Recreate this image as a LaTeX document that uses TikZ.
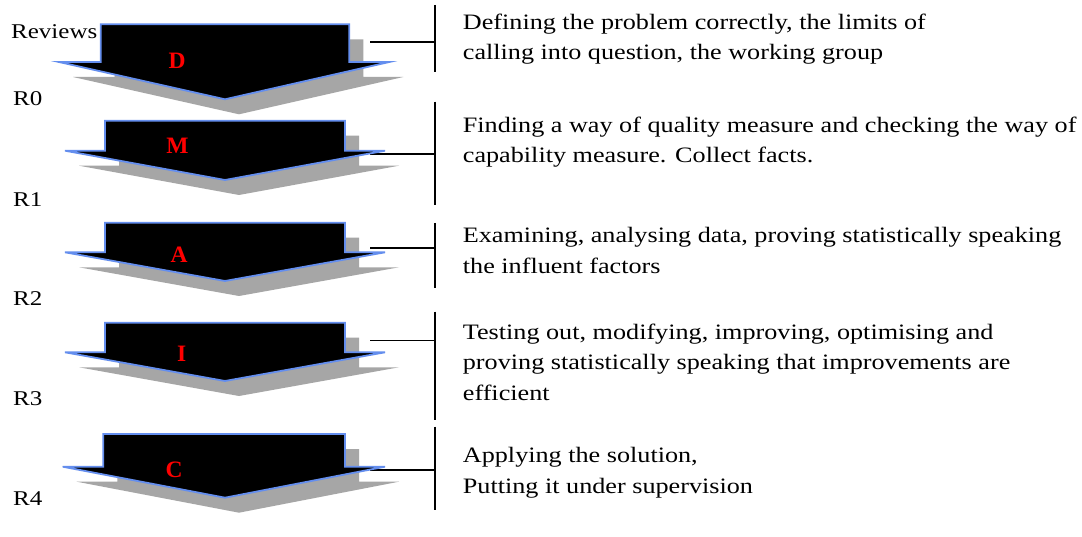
\documentclass[tikz,border=0pt]{standalone}
\usepackage{fontspec}
\setmainfont{Liberation Serif}[FakeStretch=1.19]
\newfontfamily\letterfont{Liberation Serif}
\definecolor{shadowgray}{RGB}{166,166,166}
\definecolor{edgeblue}{RGB}{100,142,238}
\definecolor{lettered}{RGB}{255,0,0}
\tikzset{
  arrowbody/.style={fill=black, draw=edgeblue, line width=1.8pt, line join=miter},
  arrowshadow/.style={fill=shadowgray},
  connector/.style={draw=black, line width=1.6pt},
  desc/.style={anchor=base west, inner sep=0pt, font=\fontsize{22}{26}\selectfont},
  review/.style={anchor=base west, inner sep=0pt, font=\fontsize{21}{25}\selectfont},
  phase/.style={anchor=center, inner sep=0pt, text=lettered, font=\letterfont\fontsize{23.5}{28}\selectfont\bfseries}
}
% #1 left x of stem, #2 right x of stem, #3 left wing x, #4 right wing x, #5 top y, #6 shoulder y, #7 tip y
\newcommand\dmaicshape[7]{%
  \path[arrowshadow, shift={(14,15)}] (#1,#5) -- (#2,#5) -- (#2,#6) -- (#4,#6) -- (225,#7) -- (#3,#6) -- (#1,#6) -- cycle;
  \path[arrowbody] (#1,#5) -- (#2,#5) -- (#2,#6) -- (#4,#6) -- (225,#7) -- (#3,#6) -- (#1,#6) -- cycle;
}
\begin{document}
\begin{tikzpicture}[x=1pt,y=-1pt]
\useasboundingbox[fill=white] (0,0) rectangle (1082,537);

% connector coordinates
\coordinate (dL) at (370,42.3);  \coordinate (dB) at (435,42.3);
\coordinate (mL) at (370,154);   \coordinate (mB) at (435,154);
\coordinate (aL) at (370,248.3); \coordinate (aB) at (435,248.3);
\coordinate (iL) at (370,340.7); \coordinate (iB) at (435,340.7);
\coordinate (cL) at (370,470);   \coordinate (cB) at (435,470);
\coordinate (dT) at (435,5);     \coordinate (dE) at (435,72);
\coordinate (mT) at (435,101.7); \coordinate (mE) at (435,205);
\coordinate (aT) at (435,223);   \coordinate (aE) at (435,288);
\coordinate (iT) at (435,311.7); \coordinate (iE) at (435,420);
\coordinate (cT) at (435,426.7); \coordinate (cE) at (435,510);

\draw[connector] (dL) -- (dB);
\draw[connector] (mL) -- (mB);
\draw[connector] (aL) -- (aB);
\draw[connector] (iL) -- (iB);
\draw[connector] (cL) -- (cB);
\draw[connector] (dT) -- (dE);
\draw[connector] (mT) -- (mE);
\draw[connector] (aT) -- (aE);
\draw[connector] (iT) -- (iE);
\draw[connector] (cT) -- (cE);

% arrows
\dmaicshape{100.7}{349.3}{59}{389.3}{24.3}{62}{99.3}
\dmaicshape{105}{345}{65}{385}{120.7}{150.7}{180}
\dmaicshape{105}{345}{65}{385}{222.7}{252.3}{281}
\dmaicshape{105}{345}{65}{385}{322.7}{352.3}{381}
\dmaicshape{103.3}{345}{62.7}{385}{434}{466.7}{497.7}

% phase letters
\node[phase] (pD) at (177,60.5) {D};
\node[phase] (pM) at (177.5,145.5) {M};
\node[phase] (pA) at (179,254.5) {A};
\node[phase] (pI) at (181.7,354) {I};
\node[phase] (pC) at (174,469.5) {C};

% review labels
\node[review] (rev) at (11,39) {Reviews};
\node[review] (r0) at (13,106) {R0};
\node[review] (r1) at (13,207) {R1};
\node[review] (r2) at (13,306) {R2};
\node[review] (r3) at (13,406) {R3};
\node[review] (r4) at (13,505) {R4};

% descriptions
\node[desc] (tD1) at (462.7,30) {Defining the problem correctly, the limits of};
\node[desc] (tD2) at (462.7,60) {calling into question, the working group};
\node[desc] (tM1) at (462.7,133) {Finding a way of quality measure and checking the way of};
\node[desc] (tM2) at (462.7,163) {capability measure. Collect facts.};
\node[desc] (tA1) at (462.7,243) {Examining, analysing data, proving statistically speaking};
\node[desc] (tA2) at (462.7,274) {the influent factors};
\node[desc] (tI1) at (462.7,340) {Testing out, modifying, improving, optimising and};
\node[desc] (tI2) at (462.7,370) {proving statistically speaking that improvements are};
\node[desc] (tI3) at (462.7,400) {efficient};
\node[desc] (tC1) at (462.7,462) {Applying the solution,};
\node[desc] (tC2) at (462.7,493) {Putting it under supervision};
\end{tikzpicture}
\end{document}
